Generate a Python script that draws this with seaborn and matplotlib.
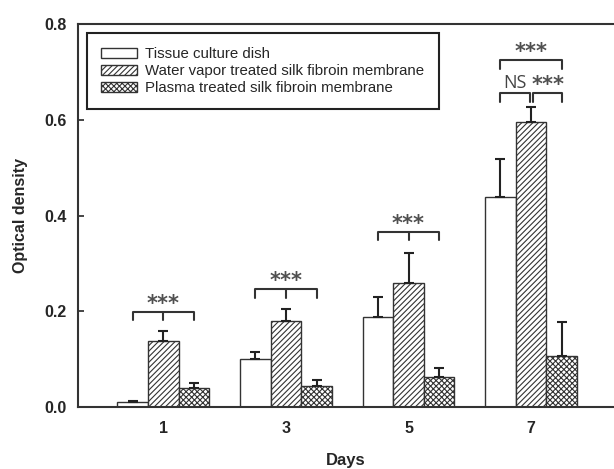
import numpy as np
import pandas as pd
import seaborn as sns
import matplotlib.pyplot as plt
from matplotlib.patches import Patch

# values (mean, upper error)
days = ['1', '3', '5', '7']
groups = ['Tissue culture dish',
          'Water vapor treated silk fibroin membrane',
          'Plasma treated silk fibroin membrane']
tissue = [0.010, 0.101, 0.188, 0.439]
tissue_err = [0.003, 0.014, 0.042, 0.079]
water = [0.138, 0.180, 0.260, 0.595]
water_err = [0.021, 0.024, 0.061, 0.031]
plasma = [0.040, 0.043, 0.063, 0.106]
plasma_err = [0.010, 0.013, 0.018, 0.071]

df = pd.DataFrame({
    'Days': days * 3,
    'group': np.repeat(groups, 4),
    'od': tissue + water + plasma,
    'err': tissue_err + water_err + plasma_err,
})

sns.set_style('ticks')
plt.rcParams['font.family'] = ['Liberation Sans', 'DejaVu Sans']
plt.rcParams['hatch.color'] = '#555555'
plt.rcParams['hatch.linewidth'] = 0.8

fig = plt.figure(figsize=(6.14, 4.69), dpi=100)
ax = fig.add_axes([0.127, 0.132, 0.873, 0.817])

sns.barplot(data=df, x='Days', y='od', hue='group', order=days, hue_order=groups,
            palette=['white'] * 3, width=0.75, errorbar=None,
            edgecolor='#333333', linewidth=1.0, legend=False, ax=ax)

hatches = ['', '//////', 'xxxxxx']
for cont, h, g in zip(ax.containers, hatches, groups):
    sub = df[df['group'] == g]
    xs = []
    for bar in cont:
        bar.set_hatch(h)
        xs.append(bar.get_x() + bar.get_width() / 2)
    ax.errorbar(xs, sub['od'], yerr=[np.zeros(4), sub['err']], fmt='none',
                ecolor='#222222', elinewidth=1.5, capsize=3.6, capthick=1.5, zorder=5)

# significance brackets
star_kw = dict(ha='center', va='bottom', fontsize=15, fontweight='bold',
               color='#505050', family='DejaVu Sans')
def bracket(x0, x1, y, mid=None, drop=0.018):
    xs = [x0, x0, x1, x1]
    ys = [y - drop, y, y, y - drop]
    ax.plot(xs, ys, color='#333333', lw=1.5, zorder=6)
    if mid is not None:
        ax.plot([mid, mid], [y, y - drop], color='#333333', lw=1.5, zorder=6)

bw = 0.25
tops = [0.199, 0.246, 0.366]
for i, y in enumerate(tops):
    bracket(i - bw, i + bw, y, mid=i)
    ax.text(i, y - 0.004, '***', **star_kw)

bracket(3 - bw, 3 + bw, 0.724)
ax.text(3, 0.72, '***', **star_kw)
bracket(3 - bw, 3 - 0.012, 0.655)
bracket(3 + 0.012, 3 + bw, 0.655)
ax.text(3 - bw / 2 - 0.01, 0.658, 'NS', ha='center', va='bottom', fontsize=13,
        color='#444444', family='Open Sans')
ax.text(3 + bw / 2 + 0.01, 0.651, '***', **star_kw)

ax.set_xlim(-0.696, 3.676)
ax.set_ylim(0, 0.8)
ax.set_yticks([0, 0.2, 0.4, 0.6, 0.8])
ax.set_yticklabels(['0.0', '0.2', '0.4', '0.6', '0.8'])
ax.tick_params(axis='y', direction='in', length=4, width=1.2, labelsize=11.5, pad=8)
ax.tick_params(axis='x', length=0, labelsize=11.5, pad=10)
for lab in ax.get_xticklabels() + ax.get_yticklabels():
    lab.set_fontweight('bold')
ax.set_xlabel('Days', fontsize=12, fontweight='bold', labelpad=12)
ax.set_ylabel('Optical density', fontsize=11.5, fontweight='bold', labelpad=12)

for side in ['left', 'bottom', 'top']:
    ax.spines[side].set_linewidth(1.5)
    ax.spines[side].set_color('#333333')
ax.spines['right'].set_visible(False)

handles = [Patch(facecolor='white', edgecolor='#333333', hatch=h, linewidth=1.0) for h in hatches]
leg = ax.legend(handles, groups, loc='upper left', fontsize=10.8, frameon=True,
                fancybox=False, edgecolor='#222222', framealpha=1,
                handlelength=2.4, handleheight=0.6, handletextpad=0.55,
                labelspacing=0.2, borderpad=0.95, borderaxespad=0.6)
leg.get_frame().set_linewidth(1.5)

fig.savefig('out.png', dpi=100)
